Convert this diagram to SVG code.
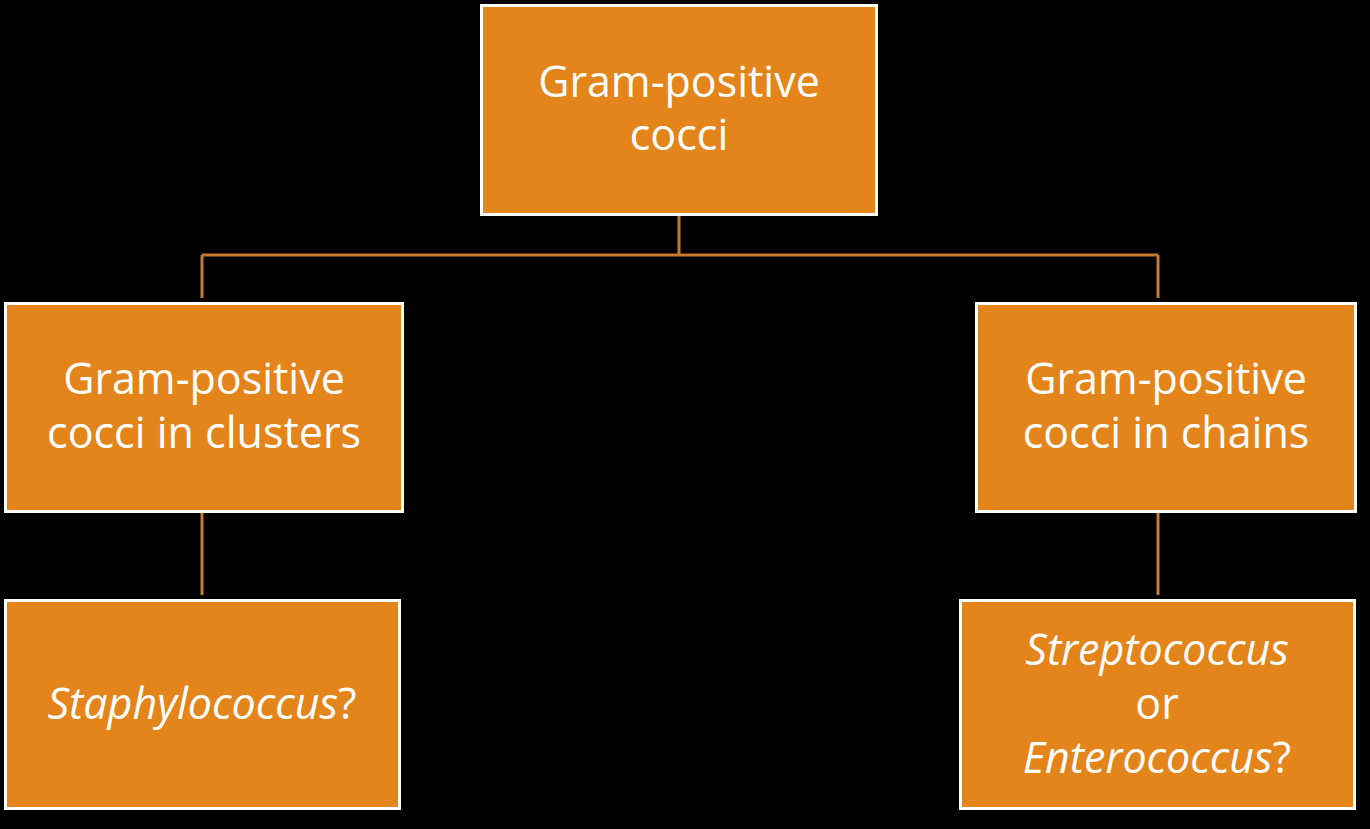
<svg xmlns="http://www.w3.org/2000/svg" width="1370" height="829" viewBox="0 0 1370 829">
<style>
.box{fill:#E3851A;stroke:#FFFFFF;stroke-width:3}
.t{font-family:"Open Sans","Liberation Sans",sans-serif;font-size:43px;fill:#FFFFFF;text-anchor:middle}
.i{font-style:italic}
.c{stroke:#C57A2C;stroke-width:3;fill:none}
</style>
<rect width="1370" height="829" fill="#000000"/>
<g id="connectors">
<path class="c" d="M679,215 V255 M202,255 H1158 M202,255 V298 M1158,255 V298 M202,512 V595 M1158,512 V595"/>
</g>
<g id="root">
<rect class="box" x="481.5" y="5.5" width="395" height="209"/>
<text class="t" x="679" y="97">Gram-positive</text>
<text class="t" x="679" y="150">cocci</text>
</g>
<g id="clusters">
<rect class="box" x="5.5" y="303.5" width="397" height="208"/>
<text class="t" x="204" y="394">Gram-positive</text>
<text class="t" x="204" y="448">cocci in clusters</text>
</g>
<g id="chains">
<rect class="box" x="976.5" y="303.5" width="379" height="208"/>
<text class="t" x="1166" y="394">Gram-positive</text>
<text class="t" x="1166" y="448">cocci in chains</text>
</g>
<g id="staph">
<rect class="box" x="5.5" y="600.5" width="394" height="208"/>
<text class="t" x="202" y="719"><tspan class="i">Staphylococcus</tspan>?</text>
</g>
<g id="strep">
<rect class="box" x="960.5" y="600.5" width="394" height="208"/>
<text class="t i" x="1157" y="665">Streptococcus</text>
<text class="t" x="1157" y="719">or</text>
<text class="t" x="1157" y="773"><tspan class="i">Enterococcus</tspan>?</text>
</g>
</svg>
